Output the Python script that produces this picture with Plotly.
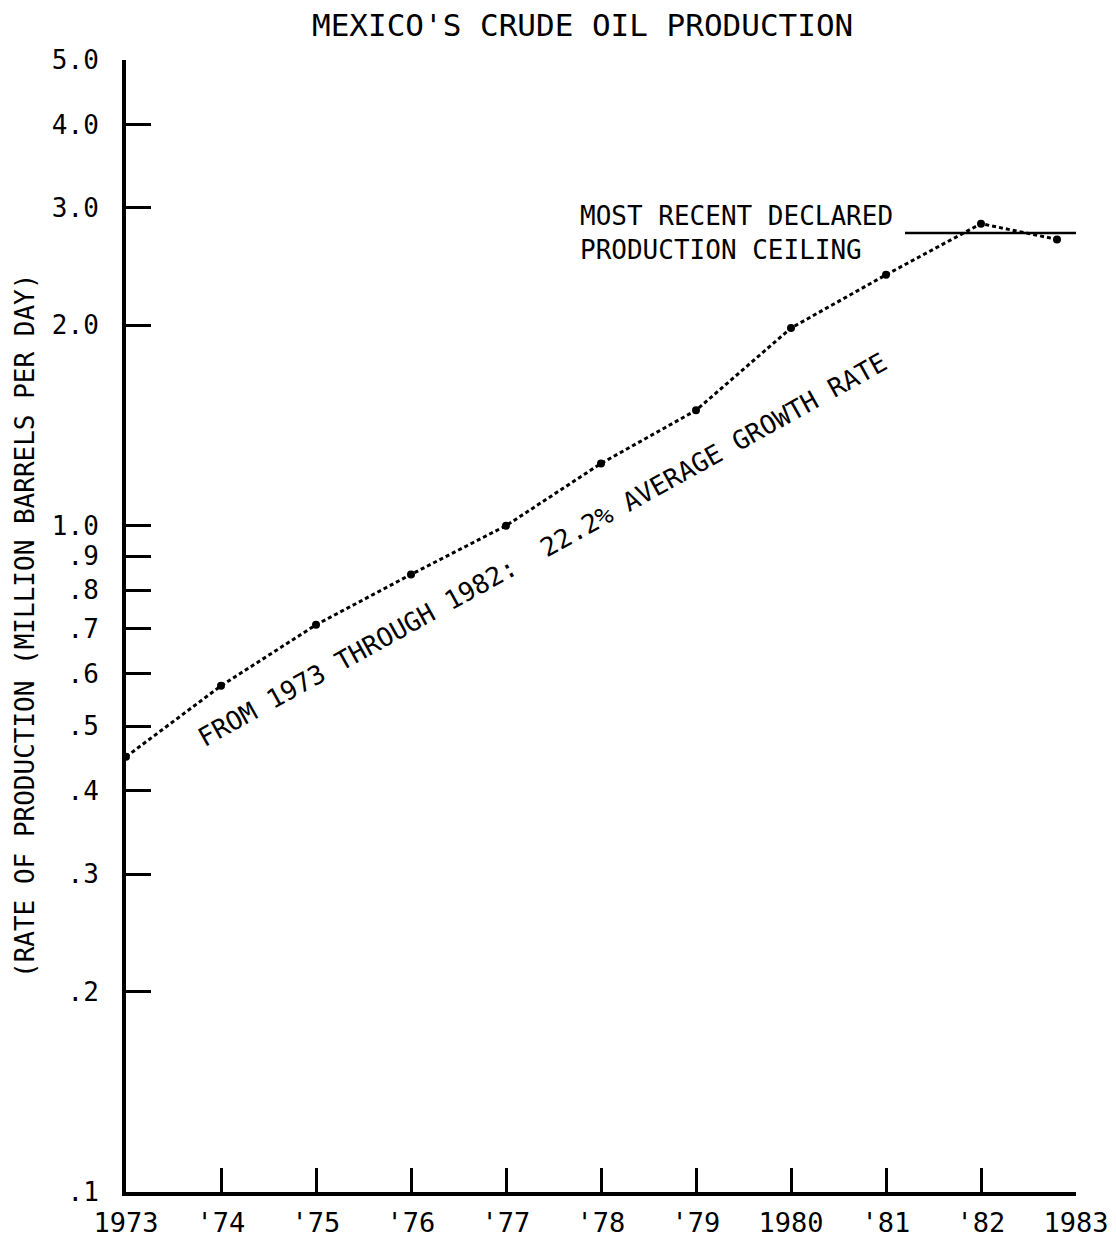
import plotly.graph_objects as go
import math

# ---- data ----
years = [1973, 1974, 1975, 1976, 1977, 1978, 1979, 1980, 1981, 1982, 1982.8]
production = [0.45, 0.575, 0.71, 0.845, 1.0, 1.24, 1.49, 1.98, 2.38, 2.84, 2.69]

ceiling_value = 2.75
ceiling_span = [1981.2, 1983.1]

x_tickvals = [1973, 1974, 1975, 1976, 1977, 1978, 1979, 1980, 1981, 1982, 1983]
x_ticktext = ["1973", "'74", "'75", "'76", "'77", "'78", "'79", "1980", "'81", "'82", "1983"]

y_tickvals = [0.1, 0.2, 0.3, 0.4, 0.5, 0.6, 0.7, 0.8, 0.9, 1.0, 2.0, 3.0, 4.0, 5.0]
y_ticktext = [".1", ".2", ".3", ".4", ".5", ".6", ".7", ".8", ".9", "1.0", "2.0", "3.0", "4.0", "5.0"]

title_text = "MEXICO'S CRUDE OIL PRODUCTION"
y_title = "(RATE OF PRODUCTION (MILLION BARRELS PER DAY)"
ceiling_label = "MOST RECENT DECLARED<br>PRODUCTION CEILING"
growth_label = "FROM 1973 THROUGH 1982:  22.2% AVERAGE GROWTH RATE"

FONT = "DejaVu Sans Mono"

fig = go.Figure()
fig.add_trace(go.Scatter(
    x=years, y=production,
    mode="lines+markers",
    line=dict(color="black", width=3, dash="4px,3px"),
    marker=dict(color="black", size=8),
    showlegend=False,
    cliponaxis=False,
))

fig.add_shape(type="line", xref="x", yref="y",
              x0=ceiling_span[0], x1=ceiling_span[1],
              y0=ceiling_value, y1=ceiling_value,
              line=dict(color="black", width=2.5))

fig.add_annotation(text=ceiling_label, x=1977.76, y=math.log10(ceiling_value),
                   xref="x", yref="y", xanchor="left", yanchor="middle",
                   align="left", showarrow=False,
                   font=dict(family=FONT, size=26, color="black"))

fig.add_annotation(text=growth_label, x=1977.38, y=math.log10(0.92),
                   xref="x", yref="y", textangle=-29, showarrow=False,
                   font=dict(family=FONT, size=26, color="black"))

fig.add_annotation(text=title_text, x=0.481, y=1, xref="paper", yref="paper",
                   xanchor="center", yanchor="middle", yshift=35, showarrow=False,
                   font=dict(family=FONT, size=31, color="black"))

fig.add_annotation(text=y_title, x=0, y=0.5, xref="paper", yref="paper",
                   xanchor="center", yanchor="middle",
                   xshift=-101, textangle=-90, showarrow=False,
                   font=dict(family=FONT, size=26, color="black"))

# page body has an 8px margin, so the figure is 8px smaller and margins shifted
fig.update_layout(
    width=1108, height=1233,
    margin=dict(l=118, r=40, t=52, b=49, autoexpand=False),
    paper_bgcolor="white", plot_bgcolor="white",
    font=dict(family=FONT, size=26, color="black"),
)

fig.update_xaxes(
    range=[1973, 1983], automargin=False,
    tickvals=x_tickvals, ticktext=x_ticktext,
    ticks="inside", ticklen=24, tickwidth=3, tickcolor="black",
    showline=True, linewidth=4, linecolor="black",
    showgrid=False, zeroline=False,
    ticklabelstandoff=4,
    tickfont=dict(family=FONT, size=27, color="black"),
)
fig.update_yaxes(
    type="log", range=[-1, math.log10(5)], automargin=False,
    tickvals=y_tickvals, ticktext=y_ticktext,
    ticks="inside", ticklen=25, tickwidth=3, tickcolor="black",
    showline=True, linewidth=4, linecolor="black",
    showgrid=False, zeroline=False,
    ticklabelstandoff=18,
    tickfont=dict(family=FONT, size=26, color="black"),
)

fig.write_html("out.html")
